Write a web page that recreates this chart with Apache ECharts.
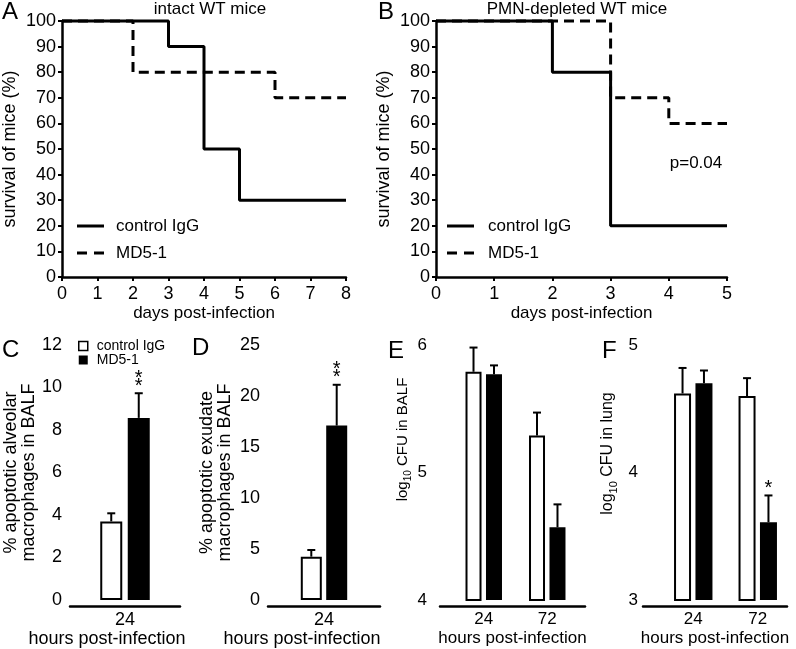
<!DOCTYPE html>
<html>
<head>
<meta charset="utf-8">
<script src="https://cdn.jsdelivr.net/npm/echarts@6/dist/echarts.min.js"></script>
<style>
html, body { margin: 0; padding: 0; background: #fff; }
#container { width: 796px; height: 649px; }
</style>
</head>
<body>
<div id="container"></div>
<script>
// A / B : survival (day of event, % alive after it)
var daysA_ctrl = [0, 3, 4, 5, 8];
var survA_ctrl = [100, 90, 50, 30, 30];
var daysA_md5 = [0, 2, 6, 8];
var survA_md5 = [100, 80, 70, 70];
var daysB_ctrl = [0, 2, 3, 5];
var survB_ctrl = [100, 80, 20, 20];
var daysB_md5 = [0, 3, 4, 5];
var survB_md5 = [100, 70, 60, 60];

// C - F : bar height and top of the error bar
var hoursC = ['24'];
var ctrlC = [3.7], ctrlC_err = [4.08];
var md5C = [8.57], md5C_err = [9.73];
var hoursD = ['24'];
var ctrlD = [4.25], ctrlD_err = [4.9];
var md5D = [17.1], md5D_err = [21.1];
var hoursE = ['24', '72'];
var ctrlE = [5.79, 5.29], ctrlE_err = [5.98, 5.47];
var md5E = [5.77, 4.57], md5E_err = [5.84, 4.75];
var hoursF = ['24', '72'];
var ctrlF = [4.62, 4.60], ctrlF_err = [4.82, 4.74];
var md5F = [4.70, 3.61], md5F_err = [4.80, 3.82];
var starsC = ['**'], starsD = ['**'], starsF = ['', '*'];

var FONT = 'Liberation Sans, Arial, sans-serif';
var solidIcon = 'path://M0,0h27v3h-27z';
var dashIcon = 'path://M0,0h10v3h-10zM17,0h10v3h-10z';

function pairs(xs, ys) {
  var out = [];
  for (var i = 0; i < xs.length; i++) out.push([xs[i], ys[i]]);
  return out;
}
function errData(mean, top) {
  var out = [];
  for (var i = 0; i < mean.length; i++) out.push([i, mean[i], top[i]]);
  return out;
}

function kmLine(name, idx, xs, ys, dashed) {
  return {
    name: name, type: 'line', xAxisIndex: idx, yAxisIndex: idx,
    data: pairs(xs, ys), step: 'end', symbol: 'none', clip: false, silent: true,
    color: '#000', z: dashed ? 3 : 2,
    lineStyle: { color: '#000', width: 3, type: dashed ? [10, 6] : 'solid' }
  };
}

function bars(name, idx, vals, w, gap, white) {
  return {
    name: name, type: 'bar', xAxisIndex: idx, yAxisIndex: idx, data: vals,
    barWidth: w, barGap: Math.round(gap * 100) + '%', silent: true,
    itemStyle: white ? { color: '#fff', borderColor: '#000', borderWidth: 2 } : { color: '#000' }
  };
}

// whisker + cap (+ stars) drawn above a bar of the group
function errBars(idx, mean, top, w, gap, side, stars) {
  return {
    type: 'custom', xAxisIndex: idx, yAxisIndex: idx, silent: true, z: 5,
    data: errData(mean, top),
    renderItem: function (params, api) {
      var lo = api.coord([api.value(0), api.value(1)]);
      var hi = api.coord([api.value(0), api.value(2)]);
      var x = lo[0] + side * w * (1 + gap) / 2;
      var kids = [
        { type: 'line', shape: { x1: x, y1: lo[1], x2: x, y2: hi[1] }, style: { stroke: '#000', lineWidth: 2 } },
        { type: 'line', shape: { x1: x - 4, y1: hi[1], x2: x + 4, y2: hi[1] }, style: { stroke: '#000', lineWidth: 2 } }
      ];
      var s = stars && stars[params.dataIndex];
      if (s) {
        kids.push({ type: 'text', x: x, y: hi[1] - 3, style: {
          text: s.split('').join('\n'), fontSize: 20, lineHeight: 8, fontFamily: FONT,
          fill: '#000', align: 'center', verticalAlign: 'bottom' } });
      }
      return { type: 'group', children: kids };
    }
  };
}

var axisLine = { onZero: false, lineStyle: { color: '#000', width: 2.5 } };
var tick = { length: 4, lineStyle: { color: '#000', width: 2 } };

function topX(idx, max) {
  return {
    gridIndex: idx, type: 'value', min: 0, max: max, interval: 1,
    name: 'days post-infection', nameLocation: 'middle', nameGap: 28,
    nameTextStyle: { fontSize: 17, color: '#000', fontFamily: FONT },
    axisLine: axisLine, axisTick: tick, splitLine: { show: false },
    axisLabel: { margin: 8, fontSize: 18, color: '#000', fontFamily: FONT }
  };
}
function topY(idx) {
  return {
    gridIndex: idx, type: 'value', min: 0, max: 100, interval: 10,
    name: 'survival of mice (%)', nameLocation: 'middle', nameRotate: 90, nameGap: 43,
    nameTextStyle: { fontSize: 18, color: '#000', fontFamily: FONT },
    axisLine: axisLine, axisTick: tick, splitLine: { show: false },
    axisLabel: { margin: 6, fontSize: 18, color: '#000', fontFamily: FONT }
  };
}
function catX(idx, cats, fs) {
  return {
    gridIndex: idx, type: 'category', data: cats,
    axisLine: { show: false, onZero: false }, axisTick: { show: false },
    axisLabel: { margin: 11, fontSize: fs, color: '#000', fontFamily: FONT }
  };
}
function valY(idx, min, max, step, name, gap, offset, fs, margin, nameFs, rich) {
  return {
    gridIndex: idx, type: 'value', min: min, max: max, interval: step, offset: offset,
    name: name, nameLocation: 'middle', nameRotate: 90, nameGap: gap,
    nameTextStyle: { fontSize: nameFs, lineHeight: 18, color: '#000', fontFamily: FONT, rich: rich },
    axisLine: axisLine, axisTick: { length: 5, lineStyle: { color: '#000', width: 2 } },
    splitLine: { show: false },
    axisLabel: { margin: margin, fontSize: fs, color: '#000', fontFamily: FONT }
  };
}
// plain baseline under the bars, carries the axis title
function underX(idx, shift, fs) {
  return {
    gridIndex: idx, type: 'value', min: 0, max: 1, offset: 6,
    axisLine: axisLine, axisTick: { show: false }, axisLabel: { show: false }, splitLine: { show: false },
    name: 'hours post-infection', nameLocation: 'middle', nameGap: 24,
    nameTextStyle: { fontSize: fs, color: '#000', fontFamily: FONT, padding: [0, shift, 0, 0] }
  };
}
function hideY(idx) { return { gridIndex: idx, type: 'value', show: false }; }
function txt(s, x, y, size, align) {
  return { type: 'text', x: x, y: y, silent: true,
    style: { text: s, fontSize: size, fontFamily: FONT, fill: '#000', align: align || 'left', verticalAlign: 'middle' } };
}
function logRich(fs, lead) {
  return {
    g: { width: lead, fontSize: fs, lineHeight: fs },
    a: { fontSize: fs, lineHeight: fs, fontFamily: FONT, color: '#000' },
    s: { fontSize: fs - 5, lineHeight: fs - 5, padding: [8, 0, 0, 0], verticalAlign: 'top', fontFamily: FONT, color: '#000' }
  };
}

var dom = document.getElementById('container');
var myChart = echarts.init(dom);

var option = {
  animation: false,
  backgroundColor: '#fff',
  grid: [
    { left: 62, top: 21, width: 284, height: 256 },   // A
    { left: 436, top: 21, width: 291, height: 256 },  // B
    { left: 70, top: 345, width: 110, height: 255 },  // C bars
    { left: 70, top: 345, width: 110, height: 255 },  // C baseline
    { left: 268, top: 345, width: 112, height: 255 }, // D bars
    { left: 268, top: 345, width: 112, height: 255 }, // D baseline
    { left: 452, top: 345, width: 127, height: 255 }, // E bars
    { left: 440, top: 345, width: 145, height: 255 }, // E baseline
    { left: 661, top: 345, width: 129, height: 255 }, // F bars
    { left: 643, top: 345, width: 144, height: 255 }  // F baseline
  ],
  xAxis: [
    topX(0, 8), topX(1, 5),
    catX(2, hoursC, 18), underX(3, 36, 18),
    catX(4, hoursD, 18), underX(5, 44, 18),
    catX(6, hoursE, 17), underX(7, 0, 17),
    catX(8, hoursF, 17), underX(9, 0, 17)
  ],
  yAxis: [
    topY(0), topY(1),
    valY(2, 0, 12, 2, '% apoptotic alveolar\nmacrophages in BALF', 31, 0, 18, 8, 18),
    hideY(3),
    valY(4, 0, 25, 5, '% apoptotic exudate\nmacrophages in BALF', 34, 0, 18, 8, 18),
    hideY(5),
    valY(6, 4, 6, 1, '{g|}{a|log}{s|10}{a| CFU in BALF}', 29, 12, 17, 13, 15, logRich(15, 66)),
    hideY(7),
    valY(8, 3, 5, 1, '{g|}{a|log}{s|10}{a| CFU in lung}', 27, 18, 17, 5, 16, logRich(16, 38)),
    hideY(9)
  ],
  legend: [
    { left: 77, top: 216, orient: 'vertical', padding: 0, itemWidth: 27, itemHeight: 3, itemGap: 7,
      selectedMode: false,
      textStyle: { fontSize: 17, lineHeight: 20, color: '#000', fontFamily: FONT, padding: [0, 0, 0, 7] },
      data: [
        { name: 'control IgG', icon: solidIcon, itemStyle: { color: '#000', borderWidth: 0 } },
        { name: 'MD5-1', icon: dashIcon, itemStyle: { color: '#000', borderWidth: 0 } }
      ] },
    { left: 447, top: 216, orient: 'vertical', padding: 0, itemWidth: 27, itemHeight: 3, itemGap: 7,
      selectedMode: false,
      textStyle: { fontSize: 17, lineHeight: 20, color: '#000', fontFamily: FONT, padding: [0, 0, 0, 9] },
      data: [
        { name: 'control IgG', icon: solidIcon, itemStyle: { color: '#000', borderWidth: 0 } },
        { name: 'MD5-1', icon: dashIcon, itemStyle: { color: '#000', borderWidth: 0 } }
      ] },
    { left: 78, top: 339, orient: 'vertical', padding: 0, itemWidth: 9, itemHeight: 9, itemGap: 0,
      selectedMode: false,
      textStyle: { fontSize: 14, lineHeight: 12, color: '#000', fontFamily: FONT, padding: [0, 0, 0, 4] },
      data: [
        { name: 'control IgG', icon: 'rect', itemStyle: { color: '#fff', borderColor: '#000', borderWidth: 1.5 } },
        { name: 'MD5-1', icon: 'rect', itemStyle: { color: '#000', borderWidth: 0 } }
      ] }
  ],
  graphic: [
    txt('A', 2, 12, 24), txt('B', 378, 12.5, 24),
    txt('C', 2, 350, 24), txt('D', 192, 348, 24),
    txt('E', 388, 351, 24), txt('F', 602, 351, 24),
    txt('intact WT mice', 210, 9, 17, 'center'),
    txt('PMN-depleted WT mice', 577, 9, 17, 'center'),
    txt('p=0.04', 696, 163, 17, 'center')
  ],
  series: [
    kmLine('control IgG', 0, daysA_ctrl, survA_ctrl, false),
    kmLine('MD5-1', 0, daysA_md5, survA_md5, true),
    kmLine('control IgG', 1, daysB_ctrl, survB_ctrl, false),
    kmLine('MD5-1', 1, daysB_md5, survB_md5, true),

    bars('control IgG', 2, ctrlC, 22, 0.25, true),
    bars('MD5-1', 2, md5C, 22, 0.25, false),
    errBars(2, ctrlC, ctrlC_err, 22, 0.25, -1),
    errBars(2, md5C, md5C_err, 22, 0.25, 1, starsC),

    bars('control IgG', 4, ctrlD, 21, 0.21, true),
    bars('MD5-1', 4, md5D, 21, 0.21, false),
    errBars(4, ctrlD, ctrlD_err, 21, 0.21, -1),
    errBars(4, md5D, md5D_err, 21, 0.21, 1, starsD),

    bars('control IgG', 6, ctrlE, 16, 0.28, true),
    bars('MD5-1', 6, md5E, 16, 0.28, false),
    errBars(6, ctrlE, ctrlE_err, 16, 0.28, -1),
    errBars(6, md5E, md5E_err, 16, 0.28, 1),

    bars('control IgG', 8, ctrlF, 17, 0.26, true),
    bars('MD5-1', 8, md5F, 17, 0.26, false),
    errBars(8, ctrlF, ctrlF_err, 17, 0.26, -1),
    errBars(8, md5F, md5F_err, 17, 0.26, 1, starsF)
  ]
};

if (option && typeof option === 'object') {
  myChart.setOption(option, true);
}
</script>
</body>
</html>
